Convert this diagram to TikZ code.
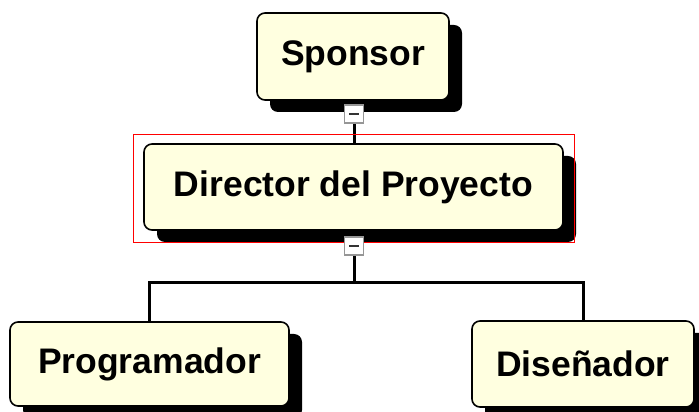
\documentclass[tikz,border=0pt]{standalone}
\usepackage{fontspec}
\setmainfont{Liberation Sans}
\usetikzlibrary{shadows}
\definecolor{boxfill}{RGB}{255,255,224}
\definecolor{markgray}{RGB}{150,150,150}
\tikzset{
  orgbox/.style={draw=black, line width=1.6pt, fill=boxfill, rounded corners=8pt,
    font=\fontsize{35.5}{40}\selectfont\bfseries, text=black, inner sep=0pt,
    drop shadow={shadow xshift=13pt, shadow yshift=-12pt, fill=black, opacity=1, rounded corners=4pt}},
  conn/.style={line width=3pt, black},
  marker/.style={draw=markgray, line width=1.5pt, fill=white, minimum width=19pt, minimum height=18pt, inner sep=0pt,
    path picture={\draw[line width=2pt, black!80] ([xshift=-5pt]path picture bounding box.center) -- ([xshift=5pt]path picture bounding box.center);}}
}
\begin{document}
\begin{tikzpicture}[x=1pt,y=1pt]
\useasboundingbox (0,0) rectangle (699,412);
\node[orgbox, minimum width=192pt, minimum height=87pt] (spon) at (353,355.5) {Sponsor};
\node[orgbox, minimum width=419pt, minimum height=86pt] (dir) at (353.5,225) {Director del Proyecto};
\node[orgbox, minimum width=279pt, minimum height=84pt] (prog) at (149.5,48) {Programador};
\node[orgbox, minimum width=222pt, minimum height=86pt] (dis) at (583,48) {Diseñador};
\coordinate (bus) at (354,129);
\draw[conn] (spon.south -| 354,0) -- (dir.north -| 354,0);
\draw[conn] (dir.south -| 354,0) -- (bus);
\draw[conn] (prog.north) |- (bus) -| (dis.north);
\draw[red, line width=1pt] ([shift={(-10pt,9pt)}]dir.north west) rectangle ([shift={(11pt,-12pt)}]dir.south east);
\node[marker] (m1) at (354,298) {};
\node[marker] (m2) at (354,166) {};
\end{tikzpicture}
\end{document}
